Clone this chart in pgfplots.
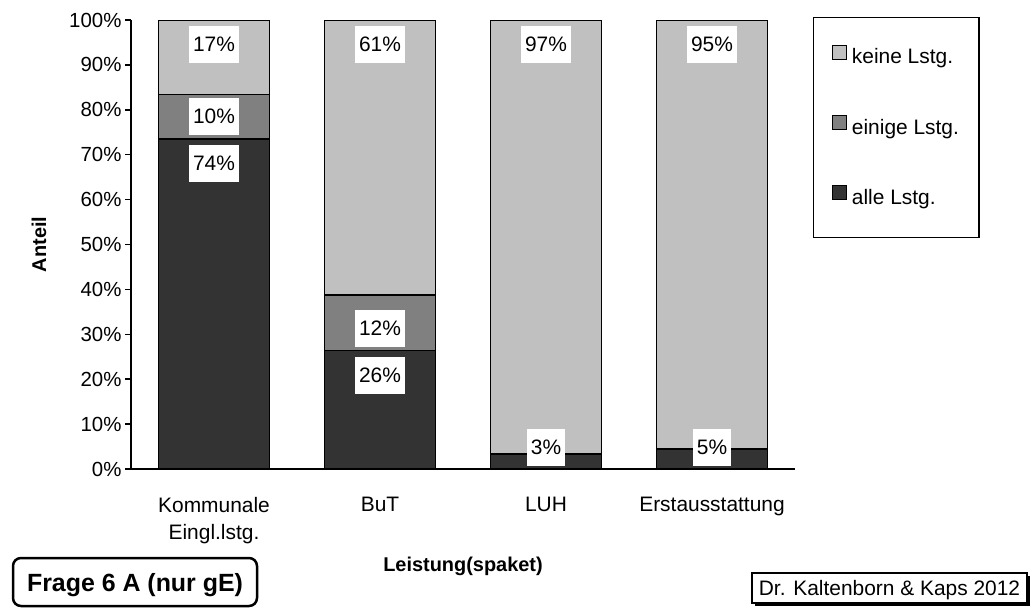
\documentclass[border=0pt]{standalone}
\usepackage{pgfplots}
\pgfplotsset{compat=1.18}
\usepackage{pgfplotstable}
\usepackage{fontspec}
\setmainfont{Liberation Sans}
\usetikzlibrary{shadows}
\definecolor{cAlle}{RGB}{51,51,51}
\definecolor{cEinige}{RGB}{128,128,128}
\definecolor{cKeine}{RGB}{192,192,192}

\pgfplotstableread{
x y lab dy op
0 73.5 74 160 1
1 26.4 26 53.7 1
2 3.3 3 33.6 1
3 4.5 5 30.9 1
}\alle
\pgfplotstableread{
x y lab dy op
0 9.9 10 20 1
1 12.4 12 13.6 1
2 0 0 0 0
3 0 0 0 0
}\einige
\pgfplotstableread{
x y lab dy op
0 16.6 17 32.3 1
1 61.2 61 132.4 1
2 96.7 97 212 1
3 95.5 95 209.4 1
}\keine

\begin{document}
\begin{tikzpicture}
\useasboundingbox (0,0) rectangle (1035bp,-609bp);
\begin{axis}[
  at={(131bp,-469bp)}, anchor=south west,
  scale only axis, width=664bp, height=449bp,
  xmin=-0.5, xmax=3.5, ymin=0, ymax=100,
  ybar stacked, bar width=0.668,
  axis x line*=bottom, axis y line*=left,
  axis line style={line width=1.5bp, -},
  xtick={0,1,2,3},
  xticklabels={{Kommunale\\Eingl.lstg.}, BuT, LUH, Erstausstattung},
  xtick style={draw=none},
  xticklabel style={align=center, font=\fontsize{21}{27}\selectfont, yshift=-19bp},
  ytick={0,10,...,100},
  yticklabel={\pgfmathprintnumber[assume math mode=true]{\tick}\%},
  tick align=outside, major tick length=6bp,
  ytick style={line width=1.5bp, black},
  yticklabel style={font=\fontsize{20.5}{24}\selectfont},
  every axis x label/.style={at={(axis description cs:0.5,-0.2272)}, anchor=base, font=\bfseries\fontsize{20}{24}\selectfont},
  every axis y label/.style={at={(axis description cs:-0.1386,0.5)}, rotate=90, anchor=center, font=\bfseries\fontsize{20}{24}\selectfont},
  xlabel={Leistung(spaket)},
  ylabel={Anteil},
  point meta=explicit symbolic,
  nodes near coords={\pgfplotspointmeta\%},
  visualization depends on={\thisrow{dy} \as \dy},
  visualization depends on={\thisrow{op} \as \op},
  every node near coord/.style={anchor=north, yshift=\dy bp, fill=white, text=black,
     opacity=\op, font=\fontsize{21}{24}\selectfont, text height=15bp, text depth=0bp,
     inner xsep=4bp, inner ysep=11bp},
  reverse legend,
  legend style={at={(axis description cs:1.0271,1.0067)}, anchor=north west,
     draw=black, line width=1.5bp, inner xsep=18bp, inner ysep=27bp, row sep=45bp,
     column sep=3bp,
     font=\fontsize{21}{24}\selectfont,
     nodes={inner sep=2bp, text depth=4bp}},
  legend cell align=left,
  legend image code/.code={\draw[#1, line width=1.2bp, draw=black] (0bp,-1bp) rectangle (14bp,13bp);},
]
\addplot[fill=cAlle, draw=black, line width=1.6bp] table[x=x, y=y, meta=lab] {\alle};
\addplot[fill=cEinige, draw=black, line width=1.6bp] table[x=x, y=y, meta=lab] {\einige};
\addplot[fill=cKeine, draw=black, line width=1.6bp] table[x=x, y=y, meta=lab] {\keine};
\legend{alle Lstg., einige Lstg., keine Lstg.}
\end{axis}
\node[draw, line width=2.5bp, rounded corners=8bp, minimum width=244bp, minimum height=48bp,
  font=\bfseries\fontsize{25}{30}\selectfont, text height=18bp, text depth=0bp]
  at (135bp,-582bp) {Frage 6 A (nur gE)};
\node[draw, fill=white, line width=1.5bp, minimum width=275bp, minimum height=30bp,
  font=\fontsize{21}{24}\selectfont, text height=15bp, text depth=0bp,
  drop shadow={shadow xshift=3bp, shadow yshift=-3bp, fill=black, opacity=1}]
  at (889.5bp,-588bp) {Dr. Kaltenborn \& Kaps 2012};
\end{tikzpicture}
\end{document}
